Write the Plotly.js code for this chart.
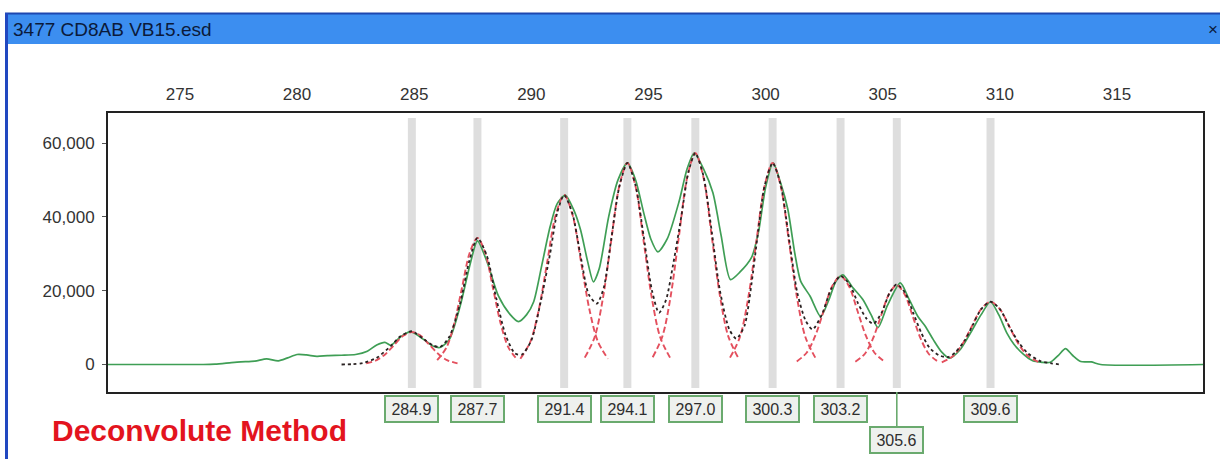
<!DOCTYPE html>
<html>
<head>
<meta charset="utf-8">
<script src="https://cdn.plot.ly/plotly-3.0.1.min.js"></script>
<style>
  html, body { margin: 0; padding: 0; background: #ffffff; }
  #chart { width: 1220px; height: 459px; }
</style>
</head>
<body>
<div id="chart"></div>
<script>
// ---------- data ----------
const windowTitle = "3477 CD8AB VB15.esd";
const methodLabel = "Deconvolute Method";

const xTickVals = [275, 280, 285, 290, 295, 300, 305, 310, 315];
const yTickVals = [0, 20000, 40000, 60000];

// fitted peak positions (labels)
const peakPositions = [284.9, 287.7, 291.4, 294.1, 297.0, 300.3, 303.2, 305.6, 309.6];
const peakLabels = ["284.9", "287.7", "291.4", "294.1", "297.0", "300.3", "303.2", "305.6", "309.6"];

// observed trace (green)
const dataX = [271.93, 276.0, 276.5, 277.2, 277.6, 278.2, 278.7, 279.2, 279.6, 280.0, 280.4, 280.85, 281.3, 281.9, 282.5, 283.0, 283.4, 283.75, 284.0,
  284.4, 284.85, 285.4, 285.8, 286.1, 286.5, 286.96, 287.4, 287.7, 288.1, 288.6, 289.1, 289.45, 289.8, 290.1, 290.45, 290.8, 291.1, 291.45,
  291.8, 292.1, 292.4, 292.65, 292.9, 293.3, 293.7, 294.1, 294.45, 294.8, 295.1, 295.4, 295.8, 296.3, 296.65, 296.95, 297.35, 297.75,
  298.1, 298.5, 298.9, 299.4, 299.7, 300.0, 300.32, 300.65, 300.95, 301.25, 301.5, 301.9, 302.35, 302.7, 303.0, 303.3, 303.7, 304.15,
  304.5, 304.8, 305.2, 305.75, 306.1, 306.5, 306.8, 307.15, 307.5, 307.85, 308.3, 308.75, 309.2, 309.6, 309.95, 310.3, 310.6, 311.0,
  311.4, 311.8, 312.15, 312.5, 312.8, 313.1, 313.45, 313.9, 314.3, 318.67];
const dataY = [0, 0, 100, 500, 700, 900, 1500, 1000, 1800, 2700, 2600, 2200, 2400, 2500, 2700, 3600, 5300, 6000, 5200,
  7400, 8900, 6800, 5000, 4600, 6800, 15800, 27500, 33500, 28000, 18500, 13500, 11600, 13500, 17000, 27000, 37300, 43500, 45900,
  42000, 36500, 28000, 22400, 26000, 40000, 50000, 54600, 50000, 41000, 34000, 30500, 34000, 44000, 53000, 57300, 53000, 46500,
  35000, 23000, 25000, 29000, 36000, 48000, 54600, 49000, 42000, 30000, 22500, 18500, 13000, 17500, 22500, 24300, 21000, 17600,
  13500, 10000, 16000, 22100, 18000, 13000, 10500, 6800, 3500, 1700, 4000, 8600, 13500, 17000, 13500, 8500, 5500, 2800,
  1000, 600, 600, 2500, 4300, 2500, 800, 700, 0, 0];

// individual fitted components (red dashed)
const compX = [
  [282.95, 283.4, 283.78, 284.15, 284.53, 284.9, 285.28, 285.65, 286.03, 286.4, 286.85],
  [285.98, 286.38, 286.71, 287.04, 287.37, 287.7, 288.03, 288.36, 288.69, 289.02, 289.42],
  [289.53, 289.96, 290.32, 290.68, 291.04, 291.4, 291.76, 292.12, 292.48, 292.84, 293.27],
  [292.28, 292.7, 293.05, 293.4, 293.75, 294.1, 294.45, 294.8, 295.15, 295.5, 295.92],
  [295.18, 295.6, 295.95, 296.3, 296.65, 297.0, 297.35, 297.7, 298.05, 298.4, 298.82],
  [298.48, 298.9, 299.25, 299.6, 299.95, 300.3, 300.65, 301.0, 301.35, 301.7, 302.12],
  [301.33, 301.76, 302.12, 302.48, 302.84, 303.2, 303.56, 303.92, 304.28, 304.64, 305.07],
  [303.83, 304.24, 304.58, 304.92, 305.26, 305.6, 305.94, 306.28, 306.62, 306.96, 307.37],
  [307.52, 308.0, 308.4, 308.8, 309.2, 309.6, 310.0, 310.4, 310.8, 311.2, 311.68]
];
const compY = [
  [300, 1190, 2860, 5340, 7770, 8800, 7770, 5340, 2860, 1190, 300],
  [1170, 4640, 11140, 20800, 30270, 34300, 30270, 20800, 11140, 4640, 1170],
  [1560, 6210, 14900, 27840, 40510, 45900, 40510, 27840, 14900, 6210, 1560],
  [1860, 7390, 17730, 33110, 48180, 54600, 48180, 33110, 17730, 7390, 1860],
  [1950, 7750, 18610, 34750, 50570, 57300, 50570, 34750, 18610, 7750, 1950],
  [1860, 7390, 17730, 33110, 48180, 54600, 48180, 33110, 17730, 7390, 1860],
  [820, 3250, 7790, 14560, 21180, 24000, 21180, 14560, 7790, 3250, 820],
  [730, 2910, 6980, 13040, 18970, 21500, 18970, 13040, 6980, 2910, 730],
  [580, 2300, 5520, 10310, 15000, 17000, 15000, 10310, 5520, 2300, 580]
];

// summed fit (black dotted)
const fitX = [281.9, 282.4, 282.8, 283.4, 284.0, 284.4, 284.9, 285.4, 285.8, 286.1, 286.5, 286.96, 287.35, 287.7, 288.1, 288.5, 288.9,
  289.3, 289.6, 290.0, 290.4, 290.8, 291.1, 291.4, 291.75, 292.1, 292.45, 292.8, 293.1, 293.4, 293.75, 294.1, 294.45, 294.8, 295.15,
  295.45, 295.75, 296.05, 296.4, 296.7, 297.0, 297.35, 297.7, 298.05, 298.45, 298.75, 299.1, 299.4, 299.65, 299.95, 300.3, 300.65,
  301.0, 301.35, 301.7, 302.0, 302.4, 302.8, 303.2, 303.6, 303.95, 304.3, 304.6, 304.95, 305.3, 305.6, 305.95, 306.3, 306.65, 307.0,
  307.4, 307.8, 308.1, 308.5, 308.85, 309.2, 309.6, 310.0, 310.4, 310.8, 311.2, 311.7, 312.2, 312.6];
const fitY = [0, 100, 400, 1800, 5000, 7600, 9000, 6900, 5200, 4700, 7500, 16500, 28000, 34300, 29500, 18000, 8000,
  3000, 2700, 6500, 17000, 30000, 41000, 45900, 41000, 29500, 19000, 16500, 21000, 33500, 48000, 54600, 48500, 34500, 20000,
  14000, 17500, 27000, 40000, 52000, 57300, 51000, 36000, 20000, 9500, 7000, 10500, 22000, 34500, 48200, 54600, 48500,
  34000, 19500, 12000, 9500, 13500, 20500, 24000, 21500, 16500, 12500, 11000, 14000, 19500, 21700, 19500, 14000, 8500, 4500,
  2500, 2000, 3300, 6500, 10800, 15000, 17000, 15000, 10300, 6000, 3000, 1000, 300, 0];

// ---------- layout helpers (pixel -> paper) ----------
const W = 1220, H = 459;
const M = { l: 108, r: 17, t: 113, b: 67 };
const PW = W - M.l - M.r, PH = H - M.t - M.b;
const px = v => (v - M.l) / PW;
const py = v => (H - M.b - v) / PH;

const FONT = "Liberation Sans, Arial, sans-serif";
const GREEN = "#3f9e55";
const RED = "#e4505e";

const traces = [];
traces.push({
  x: dataX, y: dataY, type: "scatter", mode: "lines",
  line: { color: GREEN, width: 1.7, shape: "spline", smoothing: 0.7 },
  hoverinfo: "skip", showlegend: false
});
compX.forEach((cx, i) => {
  traces.push({
    x: cx, y: compY[i], type: "scatter", mode: "lines",
    line: { color: RED, width: 1.9, dash: "6px,3px", shape: "spline", smoothing: 0.9 },
    hoverinfo: "skip", showlegend: false
  });
});
traces.push({
  x: fitX, y: fitY, type: "scatter", mode: "lines",
  line: { color: "#2a2222", width: 1.8, dash: "dot", shape: "spline", smoothing: 0.7 },
  hoverinfo: "skip", showlegend: false
});

// gray peak bars
const shapes = peakPositions.map(p => ({
  type: "rect", xref: "x", yref: "paper", x0: p - 0.17, x1: p + 0.17, y0: py(388), y1: py(118),
  fillcolor: "#dedede", line: { width: 0 }, layer: "below"
}));
// window chrome
shapes.push({ type: "rect", xref: "paper", yref: "paper", x0: px(5), x1: px(1220), y0: py(44), y1: py(13),
  fillcolor: "#3c8ef0", line: { width: 0 }, layer: "below" });
shapes.push({ type: "line", xref: "paper", yref: "paper", x0: px(5), x1: px(1220), y0: py(13.5), y1: py(13.5),
  line: { color: "#1d47b0", width: 2 } });
shapes.push({ type: "line", xref: "paper", yref: "paper", x0: px(6.5), x1: px(6.5), y0: py(459), y1: py(13),
  line: { color: "#2148c0", width: 3 } });

const annotations = [];
annotations.push({ xref: "paper", yref: "paper", x: px(11), y: py(29), xanchor: "left", yanchor: "middle",
  text: windowTitle, showarrow: false, font: { family: FONT, size: 19, color: "#0b1a3a" } });
annotations.push({ xref: "paper", yref: "paper", x: px(1213), y: py(29), xanchor: "center", yanchor: "middle",
  text: "×", showarrow: false, font: { family: FONT, size: 17, color: "#0b1a3a" } });
annotations.push({ xref: "paper", yref: "paper", x: px(50), y: py(431), xanchor: "left", yanchor: "middle",
  text: "<b>" + methodLabel + "</b>", showarrow: false, font: { family: FONT, size: 30, color: "#e3141e" } });

peakPositions.forEach((p, i) => {
  const low = peakLabels[i] === "305.6";
  const a = {
    x: p, xref: "x", yref: "paper", text: peakLabels[i],
    font: { family: FONT, size: 16, color: "#2e2e2e" },
    bgcolor: "#eef1ee", bordercolor: "#6aaa6e", borderwidth: 2, borderpad: 3,
    width: 45, height: 18
  };
  if (low) {
    Object.assign(a, { y: 0, showarrow: true, ax: 0, ay: 48, arrowhead: 0, arrowwidth: 1.6,
      arrowcolor: "#6aaa6e", standoff: 0, startstandoff: 0 });
  } else {
    Object.assign(a, { y: py(409), yanchor: "middle", showarrow: false });
  }
  annotations.push(a);
});

const layout = {
  width: W, height: H,
  margin: M,
  paper_bgcolor: "#ffffff", plot_bgcolor: "#ffffff",
  font: { family: FONT, size: 17, color: "#333333" },
  showlegend: false,
  xaxis: {
    side: "top", range: [271.93, 318.67], tickvals: xTickVals, ticktext: xTickVals.map(String),
    ticks: "", ticklabelstandoff: 4, showgrid: false, zeroline: false,
    showline: true, linecolor: "#222222", linewidth: 2, mirror: true,
    tickfont: { family: FONT, size: 17, color: "#333333" }, fixedrange: true
  },
  yaxis: {
    range: [-7450, 68130], tickvals: yTickVals, tickformat: ",d",
    ticks: "outside", ticklen: 4, tickcolor: "#555555", ticklabelstandoff: 4, showgrid: false, zeroline: false,
    showline: true, linecolor: "#222222", linewidth: 2, mirror: true,
    tickfont: { family: FONT, size: 17, color: "#333333" }, fixedrange: true
  },
  shapes: shapes,
  annotations: annotations
};

Plotly.newPlot("chart", traces, layout, { displayModeBar: false, staticPlot: true });
</script>
</body>
</html>
